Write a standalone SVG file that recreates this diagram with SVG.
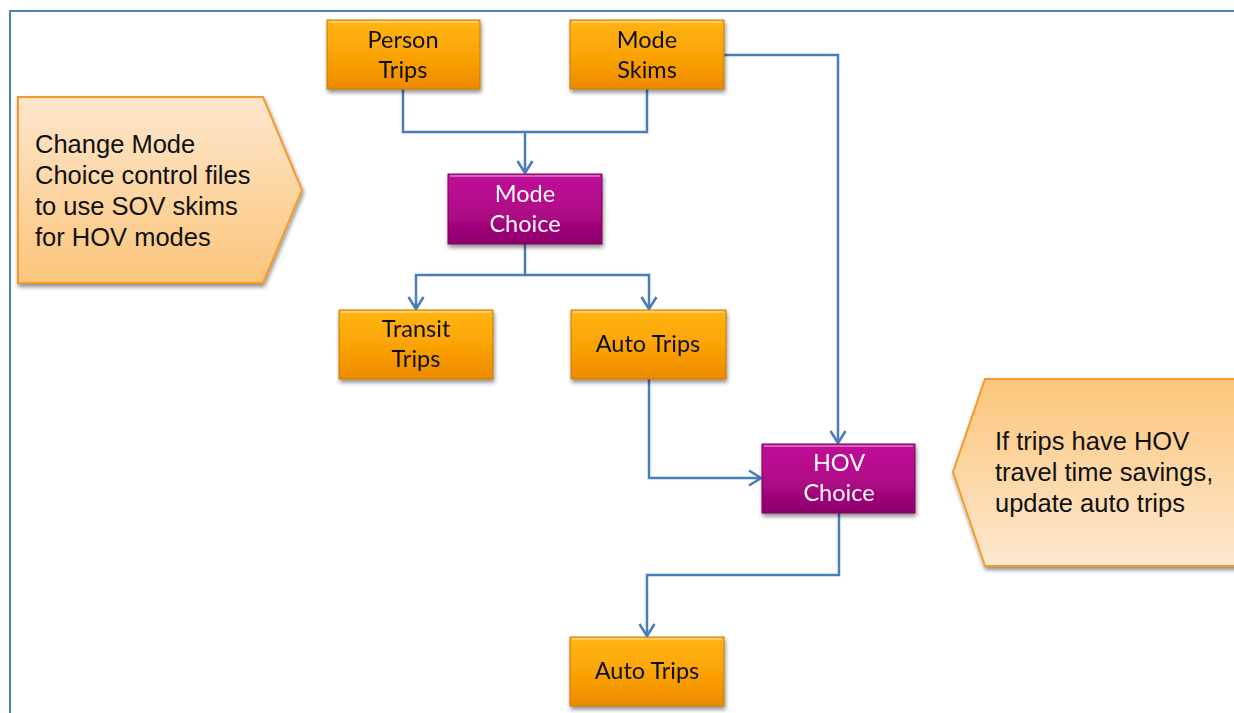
<svg xmlns="http://www.w3.org/2000/svg" width="1234" height="713" viewBox="0 0 1234 713">
<defs>
<linearGradient id="gOr" x1="0" y1="0" x2="0" y2="1">
<stop offset="0" stop-color="#ffb514"/><stop offset="0.5" stop-color="#fba406"/><stop offset="1" stop-color="#ec8a00"/>
</linearGradient>
<linearGradient id="gPu" x1="0" y1="0" x2="0" y2="1">
<stop offset="0" stop-color="#c0119a"/><stop offset="0.5" stop-color="#b10a88"/><stop offset="1" stop-color="#8e006c"/>
</linearGradient>
<linearGradient id="gCalL" x1="0" y1="0" x2="0" y2="1">
<stop offset="0" stop-color="#fde7cd"/><stop offset="1" stop-color="#fbc57a"/>
</linearGradient>
<linearGradient id="gCalR" x1="0" y1="0" x2="0" y2="1">
<stop offset="0" stop-color="#fcc67b"/><stop offset="1" stop-color="#fde8cf"/>
</linearGradient>
<filter id="sh" x="-10%" y="-10%" width="125%" height="135%">
<feGaussianBlur in="SourceAlpha" stdDeviation="2"/>
<feOffset dx="1" dy="3" result="b"/>
<feComponentTransfer><feFuncA type="linear" slope="0.45"/></feComponentTransfer>
<feMerge><feMergeNode/><feMergeNode in="SourceGraphic"/></feMerge>
</filter>
<marker id="arr" viewBox="0 0 18 18" refX="16" refY="9" markerWidth="18" markerHeight="18" markerUnits="userSpaceOnUse" orient="auto">
<path d="M4,1.5 L16,9 L4,16.5" fill="none" stroke="#4a7ebb" stroke-width="2.6"/>
</marker>
</defs>
<style>
.or{fill:url(#gOr);stroke:#c77a00;stroke-width:1}
.pu{fill:url(#gPu);stroke:#7a005a;stroke-width:1}
.hl{fill:none;stroke:#ffffff;stroke-opacity:0.35;stroke-width:2}
.bt{font-family:Lato,"Open Sans",sans-serif;font-size:23.5px;text-anchor:middle;fill:#111}
.wt{font-family:Lato,"Open Sans",sans-serif;font-size:23.5px;text-anchor:middle;fill:#ffffff}
.ct{font-family:"Liberation Sans",Arial,sans-serif;font-size:25.5px;fill:#111}
.cn{fill:none;stroke:#4a7ebb;stroke-width:2.5}
</style>
<rect width="1234" height="713" fill="#ffffff"/>
<path d="M10,720 V11 H1240" fill="none" stroke="#4f81bd" stroke-width="2"/>

<g id="callout-left">
<polygon points="18,97 263,97 302,190 263,283 18,283" fill="url(#gCalL)" stroke="#f59a2c" stroke-width="2" filter="url(#sh)"/>
<text class="ct" x="35" y="153">Change Mode</text>
<text class="ct" x="35" y="184">Choice control files</text>
<text class="ct" x="35" y="215">to use SOV skims</text>
<text class="ct" x="35" y="246">for HOV modes</text>
</g>

<g id="callout-right">
<polygon points="953,472 985,379 1240,379 1240,566 985,566" fill="url(#gCalR)" stroke="#f59a2c" stroke-width="2" filter="url(#sh)"/>
<text class="ct" x="995" y="450">If trips have HOV</text>
<text class="ct" x="995" y="481">travel time savings,</text>
<text class="ct" x="995" y="512">update auto trips</text>
</g>

<g id="connectors">
<path class="cn" d="M403,89 V132 H647 V89"/>
<path class="cn" d="M525,132 V173" marker-end="url(#arr)"/>
<path class="cn" d="M724,55 H838 V443" marker-end="url(#arr)"/>
<path class="cn" d="M525,244 V275 H416 V309" marker-end="url(#arr)"/>
<path class="cn" d="M525,275 H649 V309" marker-end="url(#arr)"/>
<path class="cn" d="M649,379 V478 H761" marker-end="url(#arr)"/>
<path class="cn" d="M839,513 V575 H647 V636" marker-end="url(#arr)"/>
</g>

<g id="person-trips" filter="url(#sh)">
<rect class="or" x="327" y="20" width="153" height="69"/>
<path class="hl" d="M329,22 H478"/>
<text class="bt" x="403" y="48">Person</text>
<text class="bt" x="403" y="78">Trips</text>
</g>
<g id="mode-skims" filter="url(#sh)">
<rect class="or" x="570" y="20" width="154" height="69"/>
<path class="hl" d="M572,22 H722"/>
<text class="bt" x="647" y="48">Mode</text>
<text class="bt" x="647" y="78">Skims</text>
</g>
<g id="mode-choice" filter="url(#sh)">
<rect class="pu" x="448" y="174" width="154" height="70"/>
<path class="hl" d="M450,176 H600"/>
<text class="wt" x="525" y="202">Mode</text>
<text class="wt" x="525" y="232">Choice</text>
</g>
<g id="transit-trips" filter="url(#sh)">
<rect class="or" x="339" y="310" width="154" height="69"/>
<path class="hl" d="M341,312 H491"/>
<text class="bt" x="416" y="337">Transit</text>
<text class="bt" x="416" y="367">Trips</text>
</g>
<g id="auto-trips" filter="url(#sh)">
<rect class="or" x="571" y="310" width="155" height="69"/>
<path class="hl" d="M573,312 H724"/>
<text class="bt" x="648" y="352">Auto Trips</text>
</g>
<g id="hov-choice" filter="url(#sh)">
<rect class="pu" x="762" y="444" width="153" height="69"/>
<path class="hl" d="M764,446 H913"/>
<text class="wt" x="839" y="471">HOV</text>
<text class="wt" x="839" y="501">Choice</text>
</g>
<g id="auto-trips-out" filter="url(#sh)">
<rect class="or" x="570" y="637" width="154" height="69"/>
<path class="hl" d="M572,639 H722"/>
<text class="bt" x="647" y="679">Auto Trips</text>
</g>
</svg>
